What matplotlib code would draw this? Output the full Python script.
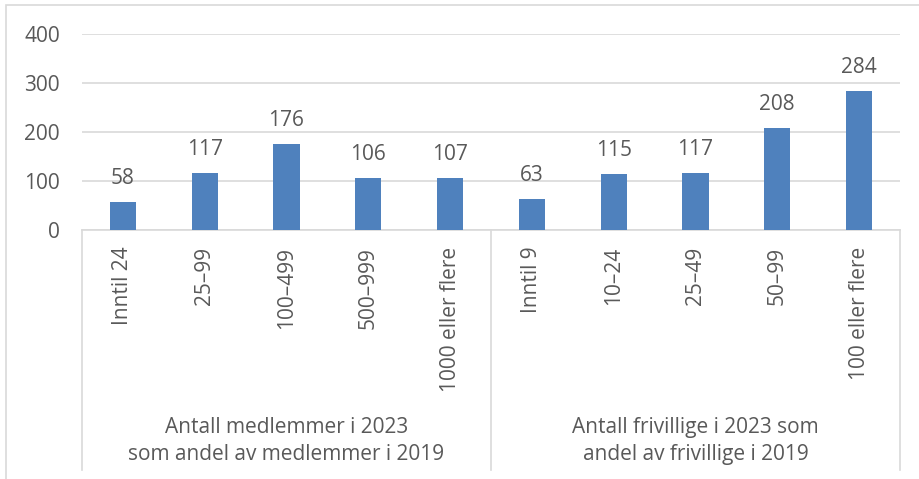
import matplotlib
matplotlib.use("Agg")
import matplotlib.pyplot as plt
import matplotlib.transforms as mtransforms
from matplotlib.patches import Rectangle
import numpy as np

categories = ["Inntil 24", "25–99", "100–499", "500–999", "1000 eller flere",
              "Inntil 9", "10–24", "25–49", "50–99", "100 eller flere"]
values = [58, 117, 176, 106, 107, 63, 115, 117, 208, 284]
groups = ["Antall medlemmer i 2023\nsom andel av medlemmer i 2019",
          "Antall frivillige i 2023 som\nandel av frivillige i 2019"]
group_sizes = [5, 5]
yticks = [0, 100, 200, 300, 400]

BLUE = "#4F81BD"
TEXT = "#595959"
GRID = "#D9D9D9"
W, H = 920, 479
FS = 15

plt.rcParams["font.family"] = ["Open Sans", "DejaVu Sans"]

fig = plt.figure(figsize=(W / 100, H / 100), dpi=100)
# outer chart border
fig.patches.append(Rectangle((6 / W, -0.1), 2, 1 - 5 / H + 0.1, transform=fig.transFigure,
                             fill=False, edgecolor=GRID, linewidth=1.2))

left, right, y0, y400 = 82, 900, 230, 34
ax = fig.add_axes([left / W, (H - y0) / H, (right - left) / W, (y0 - y400) / H])

x = np.arange(len(values))
ax.bar(x, values, width=0.32, color=BLUE, zorder=3)
for xi, v in zip(x, values):
    ax.annotate(str(v), (xi, v), xytext=(0, 18), textcoords="offset pixels",
                ha="center", va="baseline", fontsize=FS, color=TEXT)

ax.set_xlim(-0.5, len(values) - 0.5)
ax.set_ylim(0, 400)
ax.set_yticks(yticks)
ax.yaxis.grid(True, color=GRID, linewidth=1.2, zorder=0)
ax.tick_params(axis="y", length=0, pad=16, labelsize=FS, labelcolor=TEXT)
ax.set_xticks(x)
ax.set_xticklabels(categories, rotation=90, va="top", ha="center")
ax.tick_params(axis="x", length=0, pad=12, labelsize=FS, labelcolor=TEXT)
for s in ["top", "right", "left"]:
    ax.spines[s].set_visible(False)
ax.spines["bottom"].set_color(GRID)
ax.spines["bottom"].set_linewidth(1.2)

# multi-level category axis separators and group labels
trans = mtransforms.blended_transform_factory(ax.transData, ax.transAxes)
ybot = (y0 - 470) / (y0 - y400)
edges = np.concatenate([[0], np.cumsum(group_sizes)]) - 0.5
for e in edges:
    ax.plot([e, e], [0, ybot], transform=trans, color=GRID, linewidth=1.2, clip_on=False)
ylab = (y0 - 441) / (y0 - y400)
for g, a, b in zip(groups, edges[:-1], edges[1:]):
    ax.text((a + b) / 2, ylab, g, transform=trans, ha="center", va="center",
            fontsize=FS, color=TEXT, linespacing=1.35)

fig.savefig("out.png", dpi=100)
